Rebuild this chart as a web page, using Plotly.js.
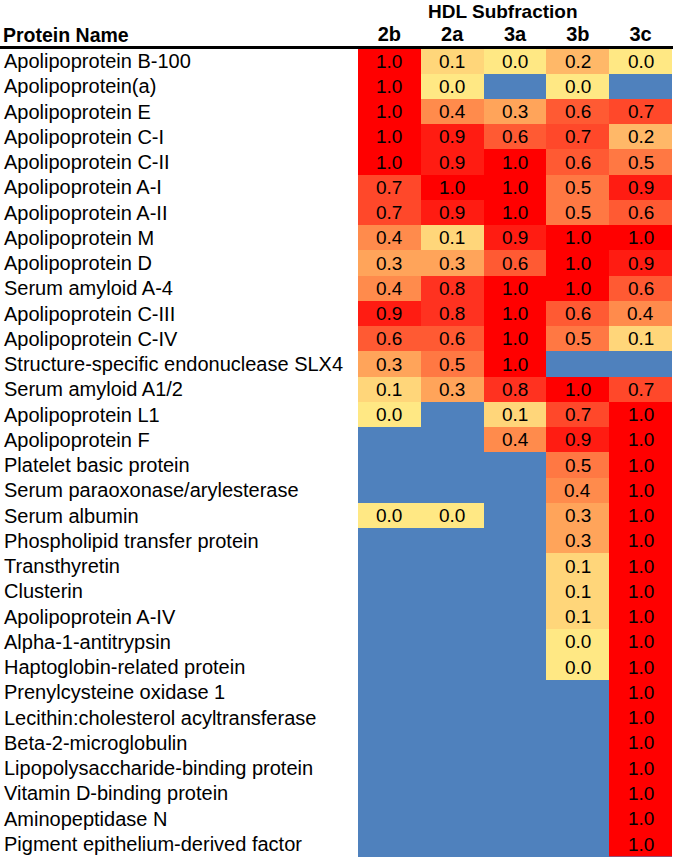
<!DOCTYPE html>
<html>
<head>
<meta charset="utf-8">
<script src="https://cdn.plot.ly/plotly-3.0.1.min.js"></script>
<style>
  html, body { margin: 0; padding: 0; background: #ffffff; }
  #chart { width: 675px; height: 859px; }
</style>
</head>
<body>
<div id="chart"></div>
<script>
const proteins = [
  "Apolipoprotein B-100",
  "Apolipoprotein(a)",
  "Apolipoprotein E",
  "Apolipoprotein C-I",
  "Apolipoprotein C-II",
  "Apolipoprotein A-I",
  "Apolipoprotein A-II",
  "Apolipoprotein M",
  "Apolipoprotein D",
  "Serum amyloid A-4",
  "Apolipoprotein C-III",
  "Apolipoprotein C-IV",
  "Structure-specific endonuclease SLX4",
  "Serum amyloid A1/2",
  "Apolipoprotein L1",
  "Apolipoprotein F",
  "Platelet basic protein",
  "Serum paraoxonase/arylesterase",
  "Serum albumin",
  "Phospholipid transfer protein",
  "Transthyretin",
  "Clusterin",
  "Apolipoprotein A-IV",
  "Alpha-1-antitrypsin",
  "Haptoglobin-related protein",
  "Prenylcysteine oxidase 1",
  "Lecithin:cholesterol acyltransferase",
  "Beta-2-microglobulin",
  "Lipopolysaccharide-binding protein",
  "Vitamin D-binding protein",
  "Aminopeptidase N",
  "Pigment epithelium-derived factor"
];

const subfractions = ["2b", "2a", "3a", "3b", "3c"];

// null = not detected (blue cell)
const v2b = [1.0, 1.0, 1.0, 1.0, 1.0, 0.7, 0.7, 0.4, 0.3, 0.4, 0.9, 0.6, 0.3, 0.1, 0.0, null, null, null, 0.0, null, null, null, null, null, null, null, null, null, null, null, null, null];
const v2a = [0.1, 0.0, 0.4, 0.9, 0.9, 1.0, 0.9, 0.1, 0.3, 0.8, 0.8, 0.6, 0.5, 0.3, null, null, null, null, 0.0, null, null, null, null, null, null, null, null, null, null, null, null, null];
const v3a = [0.0, null, 0.3, 0.6, 1.0, 1.0, 1.0, 0.9, 0.6, 1.0, 1.0, 1.0, 1.0, 0.8, 0.1, 0.4, null, null, null, null, null, null, null, null, null, null, null, null, null, null, null, null];
const v3b = [0.2, 0.0, 0.6, 0.7, 0.6, 0.5, 0.5, 1.0, 1.0, 1.0, 0.6, 0.5, null, 1.0, 0.7, 0.9, 0.5, 0.4, 0.3, 0.3, 0.1, 0.1, 0.1, 0.0, 0.0, null, null, null, null, null, null, null];
const v3c = [0.0, null, 0.7, 0.2, 0.5, 0.9, 0.6, 1.0, 0.9, 0.6, 0.4, 0.1, null, 0.7, 1.0, 1.0, 1.0, 1.0, 1.0, 1.0, 1.0, 1.0, 1.0, 1.0, 1.0, 1.0, 1.0, 1.0, 1.0, 1.0, 1.0, 1.0];

const columns = [v2b, v2a, v3a, v3b, v3c];
const z = proteins.map((p, i) => columns.map(c => c[i]));

const FONT = "Arial, 'Liberation Sans', sans-serif";

const trace = {
  type: "heatmap",
  x: subfractions,
  y: proteins,
  z: z,
  zmin: 0, zmax: 1,
  colorscale: [
    [0.0, "#FFE884"],
    [0.1, "#FFD67A"],
    [0.2, "#FFB868"],
    [0.3, "#FFA45A"],
    [0.4, "#FF8B4C"],
    [0.5, "#FF7843"],
    [0.6, "#FF5A33"],
    [0.7, "#FF482A"],
    [0.8, "#FF3220"],
    [0.9, "#FF1C12"],
    [1.0, "#FF0000"]
  ],
  showscale: false,
  hoverongaps: false
};

const L = 358, R = 3, T = 48, B = 2;
const W = 675, H = 859;
const pw = W - L - R, ph = H - T - B;
const px = (pix) => (pix - L) / pw;      // pixel x -> paper x
const py = (pix) => 1 - (pix - T) / ph;  // pixel y -> paper y

const annotations = [];
proteins.forEach(p => annotations.push({
  text: p, xref: "paper", yref: "y", x: px(2), y: p,
  xanchor: "left", yanchor: "middle", showarrow: false,
  font: { family: FONT, size: 20, color: "#000000" }
}));
// cell value labels
proteins.forEach((p, i) => {
  subfractions.forEach((s, j) => {
    const v = columns[j][i];
    if (v === null) return;
    annotations.push({
      text: v.toFixed(1), xref: "x", yref: "y", x: s, y: p,
      xanchor: "center", yanchor: "middle", showarrow: false,
      font: { family: FONT, size: 19, color: "#000000" }
    });
  });
});
annotations.push({
  text: "<b>Protein Name</b>", xref: "paper", yref: "paper",
  x: px(1), y: py(35), xanchor: "left", yanchor: "middle", showarrow: false,
  font: { family: FONT, size: 19.5, color: "#000000" }
});
annotations.push({
  text: "<b>HDL Subfraction</b>", xref: "paper", yref: "paper",
  x: px(503), y: py(11), xanchor: "center", yanchor: "middle", showarrow: false,
  font: { family: FONT, size: 19, color: "#000000" }
});

const layout = {
  width: W, height: H,
  margin: { l: L, r: R, t: T, b: B, pad: 0 },
  paper_bgcolor: "#ffffff",
  plot_bgcolor: "#4F81BD",
  showlegend: false,
  xaxis: {
    side: "top", type: "category",
    showgrid: false, zeroline: false, showline: false,
    ticks: "", ticklabelstandoff: 2,
    tickfont: { family: FONT, size: 20, color: "#000000", weight: "bold" },
    fixedrange: true
  },
  yaxis: {
    type: "category", autorange: "reversed",
    showgrid: false, zeroline: false, showline: false,
    showticklabels: false, ticks: "",
    fixedrange: true
  },
  annotations: annotations,
  shapes: [{
    type: "line", xref: "paper", yref: "paper",
    x0: px(0), x1: px(673), y0: py(47.5), y1: py(47.5),
    line: { color: "#000000", width: 3 }
  }]
};

Plotly.newPlot("chart", [trace], layout, { displayModeBar: false, staticPlot: true });
</script>
</body>
</html>
